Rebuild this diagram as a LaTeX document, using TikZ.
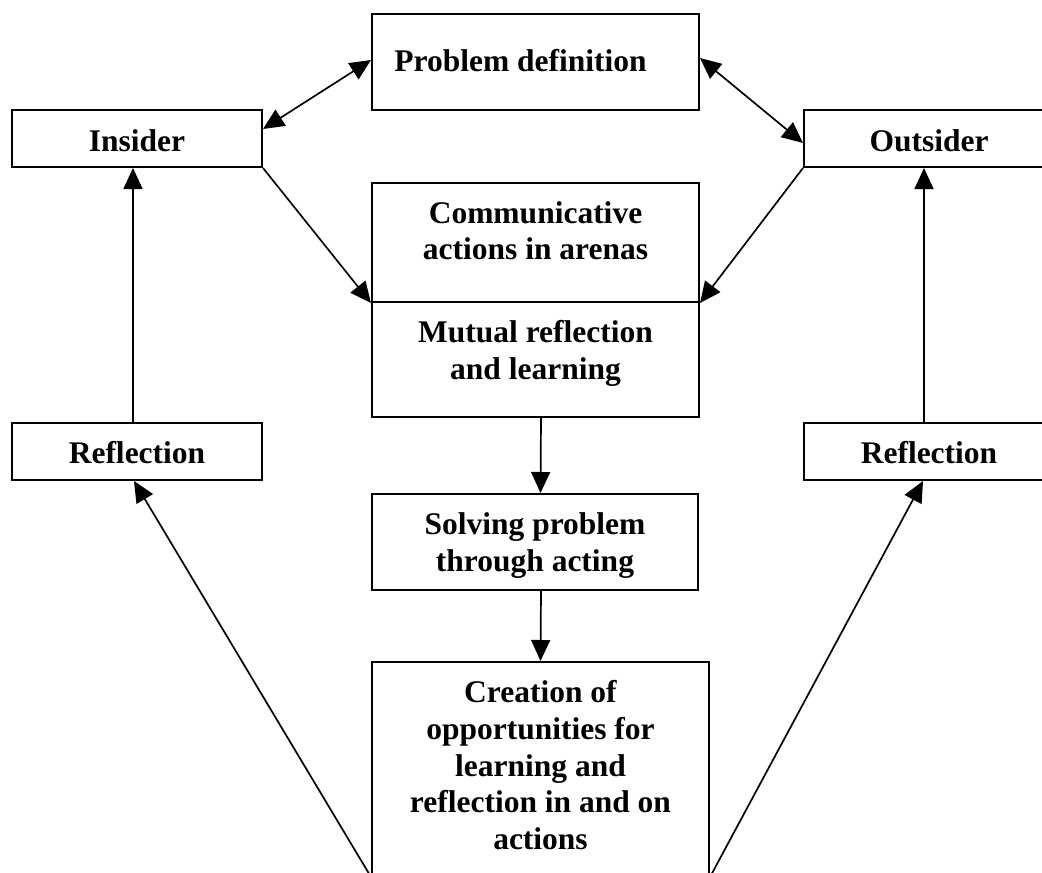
\documentclass[tikz,border=0pt]{standalone}
\usepackage{fontspec}
\setmainfont{Liberation Serif}
\usetikzlibrary{arrows.meta}
\newcommand{\boxtext}[4]{\parbox[c][#2][t]{#1}{\centering\rule{0pt}{#3}#4}}
\begin{document}
\begin{tikzpicture}[x=1pt,y=-1pt,
  font=\fontsize{31.5}{36.7}\selectfont\bfseries,
  box/.style={draw, line width=2pt, inner sep=0pt, anchor=north west},
  arr/.style={line width=1.7pt, -{Triangle[length=21pt,width=19pt]}},
  darr/.style={line width=1.7pt, {Triangle[length=21pt,width=19pt]}-{Triangle[length=21pt,width=19pt]}}]
\useasboundingbox (0,0) rectangle (1042,873);
\clip (0,0) rectangle (1042,873);
\fill[white] (0,0) rectangle (1042,873);

\node[box] (pd) at (371,13) {\boxtext{327pt}{96pt}{57pt}{Problem definition\hspace*{30pt}}};
\node[box] (ins) at (11,109) {\boxtext{250pt}{57pt}{41pt}{Insider}};
\node[box] (out) at (803,109) {\boxtext{250pt}{57pt}{41pt}{Outsider}};
\node[box] (comm) at (371,182) {\boxtext{327pt}{119pt}{40pt}{Communicative\\actions in arenas}};
\node[box] (mut) at (371,301) {\boxtext{327pt}{115pt}{40.7pt}{Mutual reflection\\and learning}};
\node[box] (refl) at (11,422) {\boxtext{250pt}{57pt}{40pt}{Reflection}};
\node[box] (refr) at (803,422) {\boxtext{250pt}{57pt}{40pt}{Reflection}};
\node[box] (solve) at (371,493) {\boxtext{326pt}{96pt}{40.5pt}{Solving problem\\through acting}};
\node[box] (crea) at (371,661) {\boxtext{337pt}{214pt}{40.7pt}{Creation of\\opportunities for\\learning and\\reflection in and on\\actions}};

\draw[darr] ([yshift=9.5pt]ins.east) -- ([yshift=2pt]pd.west);
\draw[darr] ([yshift=4pt]pd.east) -- ([yshift=-4.5pt]out.west);
\draw[arr] (ins.south east) -- (comm.south west);
\draw[arr] (out.south west) -- (comm.south east);
\draw[arr] ([xshift=5.5pt]mut.south) -- ([xshift=5.5pt]solve.north);
\draw[arr] ([xshift=6pt]solve.south) -- (crea.north);
\draw[arr] ([xshift=-4pt]refl.north) -- ([xshift=-4pt]ins.south);
\draw[arr] ([xshift=-5pt]refr.north) -- ([xshift=-5pt]out.south);
\draw[arr] (crea.south west) -- ([xshift=-3pt]refl.south);
\draw[arr] (crea.south east) -- ([xshift=-6pt]refr.south);
\end{tikzpicture}
\end{document}
